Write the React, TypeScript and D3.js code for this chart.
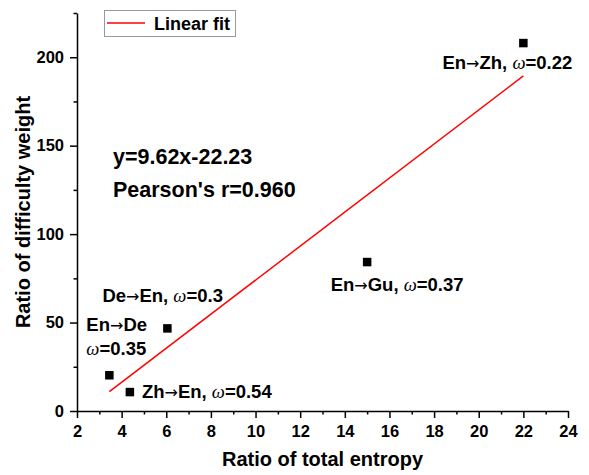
import React, { useRef, useEffect } from 'react'
import * as d3 from 'd3'

const pairs = ['En→Zh', 'En→Gu', 'De→En', 'En→De', 'Zh→En']
const entropyRatio = [22.0, 15.0, 6.05, 3.45, 4.37]
const weightRatio = [208, 84.2, 46.7, 20.2, 10.7]
const omegas = ['0.22', '0.37', '0.3', '0.35', '0.54']
const fitSlope = 9.62
const fitIntercept = -22.23
const pearsonR = '0.960'
const xTicks = d3.range(2, 25, 2)
const yTicks = [0, 50, 100, 150, 200]

// label placement relative to the marker (pixels)
const labelOffsets = [
  { dx: -16, dy: 26, anchor: 'middle', split: false },
  { dx: 30, dy: 29, anchor: 'middle', split: false },
  { dx: -65, dy: -26, anchor: 'start', split: false },
  { dx: -23, dy: -44, anchor: 'start', split: true },
  { dx: 12, dy: 6, anchor: 'start', split: false },
]

const W = 589
const H = 475
const margin = { top: 13, right: 21, bottom: 64, left: 77 }
const FONT = "'Liberation Sans', Arial, sans-serif"

const App = () => {
  const svgRef = useRef<SVGSVGElement>(null)

  useEffect(() => {
    const svg = d3.select(svgRef.current)
    svg.selectAll('*').remove()

    const x = d3.scaleLinear().domain([2, 24]).range([margin.left, W - margin.right])
    const y = d3.scaleLinear().domain([0, 225]).range([H - margin.bottom, margin.top])

    // minor ticks
    svg.append('g')
      .attr('transform', `translate(0,${y(0)})`)
      .call(d3.axisBottom(x).tickValues(d3.range(3, 24, 2)).tickSize(3.5).tickFormat(() => ''))
      .call((g) => g.select('.domain').remove())
    svg.append('g')
      .attr('transform', `translate(${x(2)},0)`)
      .call(d3.axisLeft(y).tickValues([25, 75, 125, 175, 225]).tickSize(3.5).tickFormat(() => ''))
      .call((g) => g.select('.domain').remove())

    const xAxis = svg.append('g')
      .attr('transform', `translate(0,${y(0)})`)
      .call(d3.axisBottom(x).tickValues(xTicks).tickSize(7).tickSizeOuter(0).tickPadding(7))
    const yAxis = svg.append('g')
      .attr('transform', `translate(${x(2)},0)`)
      .call(d3.axisLeft(y).tickValues(yTicks).tickSize(7).tickSizeOuter(0).tickPadding(6))

    for (const g of [xAxis, yAxis]) {
      g.selectAll('text').attr('font-size', 16.5).attr('font-weight', 'bold').attr('font-family', FONT).attr('fill', '#000')
      g.selectAll('line, path').attr('stroke', '#000').attr('stroke-width', 1.5)
    }
    svg.selectAll('g line').attr('stroke', '#000').attr('stroke-width', 1.5)

    // axis titles
    svg.append('text')
      .attr('x', (x(2) + x(24)) / 2)
      .attr('y', 466)
      .attr('text-anchor', 'middle')
      .attr('font-family', FONT).attr('font-weight', 'bold').attr('font-size', 20)
      .text('Ratio of total entropy')
    svg.append('text')
      .attr('transform', `translate(30,${(y(0) + y(225)) / 2}) rotate(-90)`)
      .attr('text-anchor', 'middle')
      .attr('font-family', FONT).attr('font-weight', 'bold').attr('font-size', 20)
      .text('Ratio of difficulty weight')

    // linear fit
    const xMin = d3.min(entropyRatio) as number
    const xMax = d3.max(entropyRatio) as number
    const line = d3.line<number>().x((d) => x(d)).y((d) => y(fitSlope * d + fitIntercept))
    svg.append('path')
      .attr('d', line([xMin, xMax]))
      .attr('stroke', '#ff0000').attr('stroke-width', 1.5).attr('fill', 'none')

    // markers
    const pts = pairs.map((p, i) => ({ p, x: entropyRatio[i], y: weightRatio[i], w: omegas[i], o: labelOffsets[i] }))
    const s = 8.5
    svg.append('g')
      .selectAll('rect')
      .data(pts)
      .join('rect')
      .attr('x', (d) => x(d.x) - s / 2)
      .attr('y', (d) => y(d.y) - s / 2)
      .attr('width', s).attr('height', s)
      .attr('fill', '#000')

    // labels
    const addLabel = (t, name, w, withName, withOmega, comma) => {
      if (withName) {
        const [a, b] = name.split('→')
        t.append('tspan').text(a)
        t.append('tspan').attr('font-family', "'DejaVu Sans', sans-serif").attr('font-weight', 'normal').attr('font-size', 16).text('→')
        t.append('tspan').text(b + (comma ? ', ' : ''))
      }
      if (withOmega) {
        t.append('tspan').attr('font-family', "'Liberation Serif', 'Times New Roman', serif").attr('font-style', 'italic').attr('font-weight', 'normal').text('ω')
        t.append('tspan').text(`=${w}`)
      }
    }
    pts.forEach((d) => {
      const px = x(d.x) + d.o.dx
      const py = y(d.y) + d.o.dy
      const mk = (yy) => svg.append('text')
        .attr('x', px).attr('y', yy)
        .attr('text-anchor', d.o.anchor)
        .attr('font-family', FONT).attr('font-weight', 'bold').attr('font-size', 18.5)
      if (d.o.split) {
        addLabel(mk(py), d.p, d.w, true, false, false)
        addLabel(mk(py + 24), d.p, d.w, false, true, false)
      } else {
        addLabel(mk(py), d.p, d.w, true, true, true)
      }
    })

    // equation
    svg.append('text')
      .attr('x', 113).attr('y', 164)
      .attr('font-family', FONT).attr('font-weight', 'bold').attr('font-size', 21.5)
      .text(`y=${fitSlope}x${fitIntercept}`)
    svg.append('text')
      .attr('x', 113).attr('y', 197)
      .attr('font-family', FONT).attr('font-weight', 'bold').attr('font-size', 21.5)
      .text(`Pearson's r=${pearsonR}`)

    // legend
    const lg = svg.append('g')
    lg.append('rect').attr('x', 104.5).attr('y', 10.5).attr('width', 131).attr('height', 26)
      .attr('fill', '#fff').attr('stroke', '#999').attr('stroke-width', 1)
    lg.append('line').attr('x1', 107).attr('x2', 145).attr('y1', 23).attr('y2', 23)
      .attr('stroke', '#ff0000').attr('stroke-width', 1.5)
    lg.append('text').attr('x', 154).attr('y', 30)
      .attr('font-family', FONT).attr('font-weight', 'bold').attr('font-size', 18)
      .text('Linear fit')
  }, [])

  return (
    <svg
      ref={svgRef}
      width={W}
      height={H}
      style={{ position: 'absolute', left: 0, top: 0, background: '#fff' }}
    />
  )
}

export default App
